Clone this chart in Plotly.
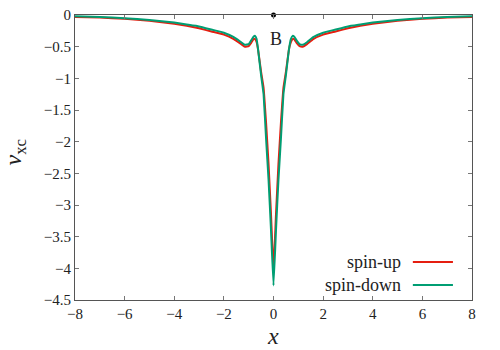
import plotly.graph_objects as go

x = [-8, -7, -6, -5, -4, -3.5, -3, -2.5, -2, -1.6, -1.3, -1.15, -1.0, -0.9, -0.8, -0.74,
     -0.68, -0.62, -0.5, -0.4, -0.3, -0.2, -0.1, 0,
     0.1, 0.2, 0.3, 0.4, 0.5, 0.62, 0.7, 0.77, 0.83, 0.93, 1.05, 1.18, 1.35, 1.6, 2, 2.5, 3,
     3.5, 4, 5, 6, 7, 8]

spin_up = [-0.03, -0.04, -0.06, -0.09, -0.14, -0.17, -0.21, -0.26, -0.31, -0.38, -0.46, -0.50,
           -0.49, -0.44, -0.38, -0.38, -0.43, -0.55, -0.90, -1.15, -1.70, -2.35, -3.15, -4.03,
           -3.15, -2.35, -1.70, -1.15, -0.90, -0.55, -0.43, -0.38, -0.38, -0.44, -0.49, -0.50,
           -0.46, -0.38, -0.31, -0.26, -0.21, -0.17, -0.14, -0.09, -0.06, -0.04, -0.03]

spin_down = [-0.02, -0.03, -0.05, -0.08, -0.12, -0.15, -0.18, -0.23, -0.28, -0.35, -0.43, -0.47,
             -0.46, -0.40, -0.34, -0.33, -0.38, -0.55, -0.95, -1.25, -1.95, -2.60, -3.40, -4.27,
             -3.40, -2.60, -1.95, -1.25, -0.95, -0.55, -0.38, -0.33, -0.34, -0.40, -0.46, -0.47,
             -0.43, -0.35, -0.28, -0.23, -0.18, -0.15, -0.12, -0.08, -0.05, -0.03, -0.02]

point_x = [0]
point_y = [0]
point_label = "B"

x_ticks = [-8, -6, -4, -2, 0, 2, 4, 6, 8]
y_ticks = [0, -0.5, -1, -1.5, -2, -2.5, -3, -3.5, -4, -4.5]

RED = "#e51e10"
GREEN = "#009e73"
FONT = "Liberation Serif, DejaVu Serif, serif"
TXT = "#222"

def fmt(v):
    s = ("%g" % abs(v))
    return ("\u2212" + s) if v < 0 else s

fig = go.Figure()
fig.add_trace(go.Scatter(x=x, y=spin_up, mode="lines", name="spin-up",
                         line=dict(color=RED, width=2, shape="spline", smoothing=0.3)))
fig.add_trace(go.Scatter(x=x, y=spin_down, mode="lines", name="spin-down",
                         line=dict(color=GREEN, width=2, shape="spline", smoothing=0.3)))
fig.add_trace(go.Scatter(x=point_x, y=point_y, mode="markers", cliponaxis=False,
                         marker=dict(color="black", size=5), showlegend=False))

fig.add_annotation(x=0.12, y=-0.38, text=point_label, showarrow=False,
                   font=dict(family=FONT, size=18, color=TXT))

# legend (gnuplot style: text then sample line)
for name, col, yp in [("spin-up", RED, 0.133), ("spin-down", GREEN, 0.053)]:
    fig.add_annotation(xref="paper", yref="paper", x=0.826, y=yp, text=name,
                       showarrow=False, xanchor="right", yanchor="middle",
                       font=dict(family=FONT, size=18, color=TXT))
    fig.add_shape(type="line", xref="paper", yref="paper", x0=0.851, x1=0.952,
                  y0=yp, y1=yp, line=dict(color=col, width=2))

# axis titles
fig.add_annotation(xref="paper", yref="paper", x=0.499, y=-0.126, text="<i>x</i>",
                   showarrow=False, xanchor="center", yanchor="middle",
                   font=dict(family=FONT, size=24, color=TXT))
fig.add_annotation(xref="paper", yref="paper", x=-0.152, y=0.52, text="<i>v</i><sub>xc</sub>",
                   showarrow=False, xanchor="center", yanchor="middle", textangle=-90,
                   font=dict(family=FONT, size=24, color=TXT))

axis_common = dict(showgrid=False, zeroline=False, showline=True, mirror="ticks",
                   linecolor="#555", linewidth=1, ticks="inside", ticklen=4,
                   tickcolor="#777", automargin=False,
                   tickfont=dict(family=FONT, size=15, color=TXT))

fig.update_xaxes(range=[-8, 8], tickvals=x_ticks, ticktext=[fmt(v) for v in x_ticks],
                 **axis_common)
fig.update_yaxes(range=[-4.5, 0], tickvals=y_ticks, ticktext=[fmt(v) for v in y_ticks],
                 **axis_common)

fig.update_layout(width=500, height=350, showlegend=False,
                  margin=dict(l=75, r=28, t=15, b=50, autoexpand=False),
                  plot_bgcolor="white", paper_bgcolor="white")

fig.write_html("out.html", config={"displayModeBar": False},
               post_script="document.body.style.margin='0';")
